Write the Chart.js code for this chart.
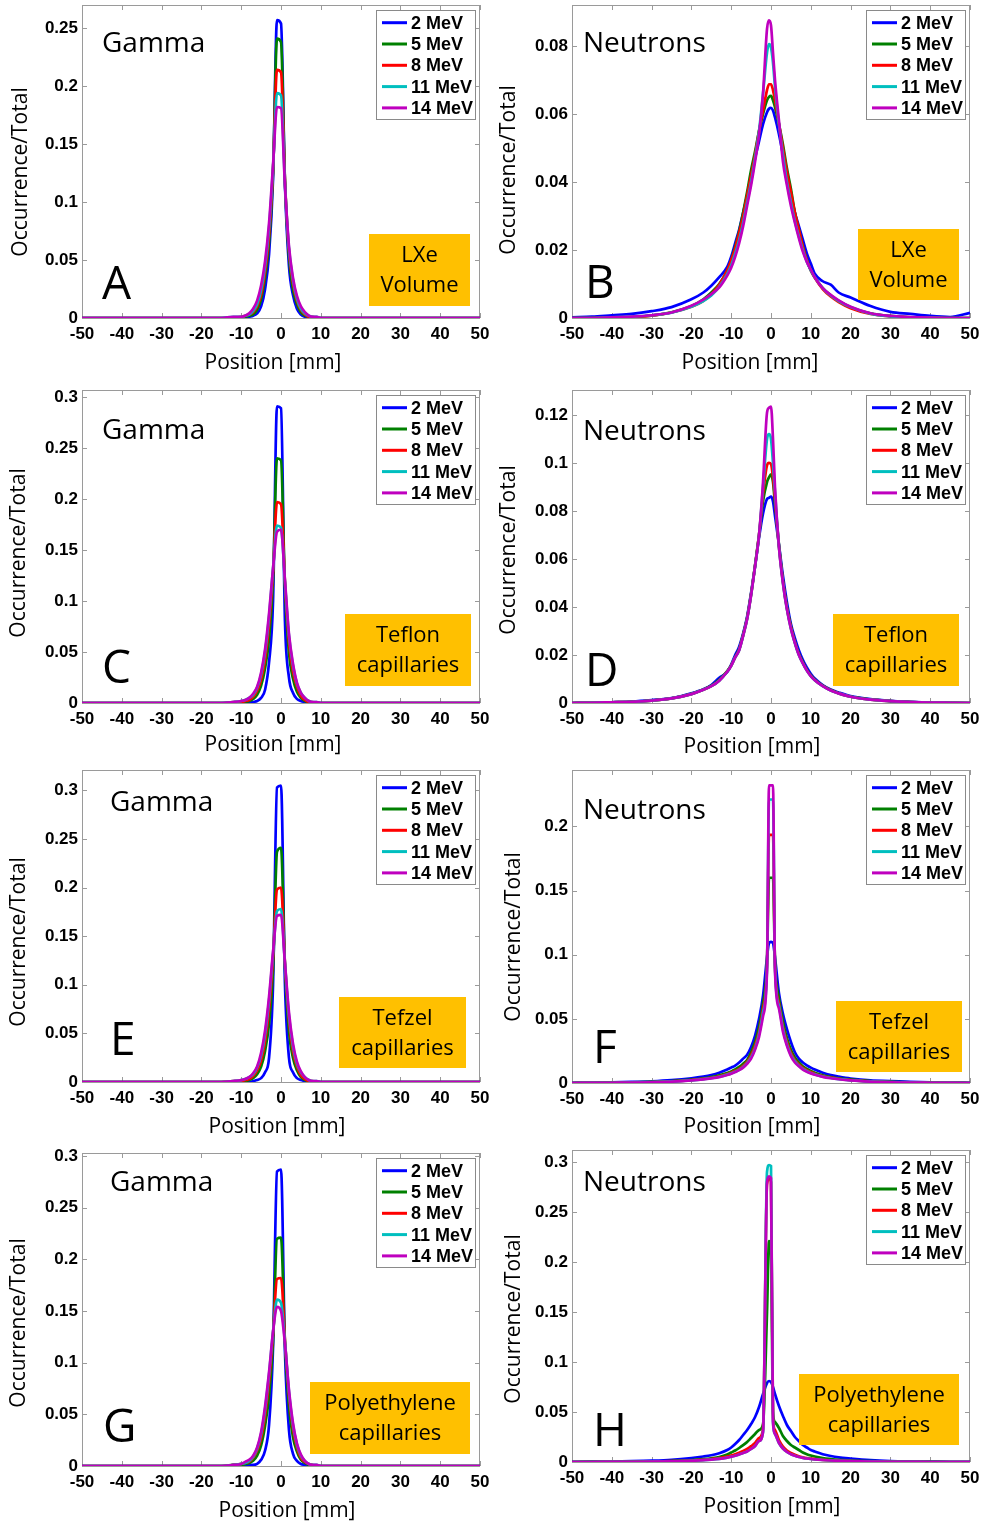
<!DOCTYPE html>
<html><head><meta charset="utf-8">
<script src="https://cdn.jsdelivr.net/npm/chart.js@4.4.1/dist/chart.umd.min.js"></script>
<style>
html,body{margin:0;padding:0;background:#fff;width:983px;height:1525px;overflow:hidden;position:relative}
canvas{position:absolute}
</style></head><body>
<script>
// ---------- categories / labels ----------
const energyLabels = ['2 MeV','5 MeV','8 MeV','11 MeV','14 MeV'];
const xTicks = [-50,-40,-30,-20,-10,0,10,20,30,40,50];
const yTicksA = [0,0.05,0.1,0.15,0.2,0.25];
const yTicksB = [0,0.02,0.04,0.06,0.08];
const yTicksC = [0,0.05,0.1,0.15,0.2,0.25,0.3];
const yTicksD = [0,0.02,0.04,0.06,0.08,0.1,0.12];
const yTicksE = [0,0.05,0.1,0.15,0.2,0.25,0.3];
const yTicksF = [0,0.05,0.1,0.15,0.2];
const yTicksG = [0,0.05,0.1,0.15,0.2,0.25,0.3];
const yTicksH = [0,0.05,0.1,0.15,0.2,0.25,0.3];

// ---------- positions (mm) ----------
const gammaPositions = [-50,-20,-15,-12,-10,-9,-8,-7,-6,-5,-4,-3,-2,-1,0,1,2,3,4,5,6,7,8,9,10,12,15,20,50];
const neutronPositions = [-50,-45,-40,-35,-30,-25,-20,-17,-15,-13,-11,-10,-9,-8,-7,-6,-5,-4,-3,-2,-1,-0.5,0,0.5,1,2,3,4,5,6,7,8,9,10,11,13,15,17,20,25,30,35,40,45,50];

// ---------- A: Gamma, LXe volume ----------
const A_2MeV  = [0,0,0,0,0,0,0.001,0.002,0.004,0.01,0.025,0.055,0.12,0.257,0.254,0.115,0.045,0.02,0.008,0.003,0.001,0,0,0,0,0,0,0,0];
const A_5MeV  = [0,0,0,0,0,0.001,0.002,0.003,0.007,0.016,0.035,0.065,0.125,0.241,0.238,0.118,0.053,0.025,0.012,0.005,0.002,0.001,0,0,0,0,0,0,0];
const A_8MeV  = [0,0,0,0,0.001,0.002,0.003,0.005,0.01,0.02,0.04,0.072,0.128,0.214,0.212,0.118,0.058,0.03,0.015,0.007,0.003,0.001,0.001,0,0,0,0,0,0];
const A_11MeV = [0,0,0,0.001,0.001,0.002,0.003,0.006,0.012,0.024,0.045,0.078,0.13,0.194,0.192,0.115,0.06,0.033,0.017,0.008,0.004,0.002,0.001,0.001,0,0,0,0,0];
const A_14MeV = [0,0,0,0.001,0.001,0.002,0.004,0.008,0.015,0.028,0.049,0.082,0.132,0.182,0.181,0.114,0.062,0.035,0.019,0.01,0.005,0.002,0.001,0.001,0,0,0,0,0];

// ---------- C: Gamma, Teflon ----------
const C_2MeV  = [0,0,0,0,0,0,0,0.001,0.002,0.005,0.013,0.04,0.1,0.291,0.289,0.08,0.025,0.01,0.004,0.002,0.001,0,0,0,0,0,0,0,0];
const C_5MeV  = [0,0,0,0,0,0.001,0.002,0.004,0.008,0.017,0.034,0.063,0.12,0.24,0.238,0.113,0.049,0.024,0.011,0.005,0.002,0.001,0,0,0,0,0,0,0];
const C_8MeV  = [0,0,0,0.001,0.001,0.002,0.003,0.006,0.012,0.023,0.043,0.077,0.128,0.197,0.195,0.118,0.06,0.031,0.016,0.007,0.003,0.001,0.001,0,0,0,0,0,0];
const C_11MeV = [0,0,0,0.001,0.002,0.003,0.005,0.008,0.015,0.028,0.05,0.085,0.132,0.174,0.172,0.118,0.066,0.037,0.019,0.01,0.005,0.002,0.001,0.001,0,0,0,0,0];
const C_14MeV = [0,0,0,0.001,0.002,0.003,0.005,0.009,0.016,0.03,0.053,0.088,0.132,0.168,0.17,0.12,0.068,0.039,0.02,0.01,0.005,0.002,0.001,0.001,0,0,0,0,0];

// ---------- E: Gamma, Tefzel ----------
const E_2MeV  = [0,0,0,0,0,0,0,0.001,0.002,0.004,0.01,0.025,0.1,0.303,0.305,0.1,0.025,0.01,0.004,0.002,0.001,0,0,0,0,0,0,0,0];
const E_5MeV  = [0,0,0,0,0.001,0.001,0.002,0.004,0.008,0.016,0.032,0.06,0.115,0.237,0.241,0.118,0.052,0.025,0.012,0.005,0.002,0.001,0,0,0,0,0,0,0];
const E_8MeV  = [0,0,0,0.001,0.001,0.002,0.003,0.006,0.012,0.022,0.042,0.075,0.128,0.198,0.2,0.122,0.063,0.032,0.016,0.007,0.003,0.001,0.001,0,0,0,0,0,0];
const E_11MeV = [0,0,0,0.001,0.002,0.003,0.005,0.008,0.015,0.027,0.049,0.084,0.132,0.176,0.178,0.122,0.068,0.037,0.019,0.01,0.005,0.002,0.001,0.001,0,0,0,0,0];
const E_14MeV = [0,0,0,0.001,0.002,0.003,0.005,0.009,0.016,0.03,0.053,0.088,0.134,0.171,0.172,0.122,0.072,0.04,0.021,0.011,0.005,0.002,0.001,0.001,0,0,0,0,0];

// ---------- G: Gamma, Polyethylene ----------
const G_2MeV  = [0,0,0,0,0,0,0.001,0.001,0.002,0.006,0.015,0.04,0.115,0.285,0.287,0.11,0.035,0.012,0.005,0.002,0.001,0,0,0,0,0,0,0,0];
const G_5MeV  = [0,0,0,0.001,0.001,0.002,0.003,0.005,0.01,0.02,0.039,0.068,0.12,0.22,0.221,0.118,0.058,0.028,0.014,0.006,0.003,0.001,0,0,0,0,0,0,0];
const G_8MeV  = [0,0,0,0.001,0.002,0.003,0.004,0.008,0.015,0.027,0.049,0.082,0.128,0.181,0.182,0.122,0.068,0.036,0.018,0.008,0.004,0.002,0.001,0,0,0,0,0,0];
const G_11MeV = [0,0,0,0.001,0.002,0.003,0.005,0.009,0.017,0.031,0.055,0.089,0.13,0.161,0.158,0.12,0.072,0.04,0.021,0.01,0.005,0.002,0.001,0.001,0,0,0,0,0];
const G_14MeV = [0,0,0,0.001,0.002,0.004,0.006,0.01,0.018,0.033,0.058,0.091,0.13,0.154,0.15,0.118,0.074,0.042,0.022,0.011,0.005,0.002,0.001,0.001,0,0,0,0,0];

// ---------- B: Neutrons, LXe volume ----------
const B_2MeV = [0.0002,0.0004,0.0008,0.0012,0.002,0.0032,0.0055, 0.0075,0.0095,0.012,0.015,
  0.018,0.022,0.026,0.031,0.036,0.042,0.047,0.052,0.057,0.0605, 0.0615,0.0618,0.061,
  0.059,0.054,0.048,0.042,0.036,0.031,0.027,0.023,0.019,0.016,0.013, 0.0108,0.0098,0.0075,0.006,
  0.0035,0.0018,0.0012,0.0006,0.0003,0.0015];
const B_5MeV = [0,0,0.0001,0.0003,0.0007,0.0017,0.0035, 0.0055,0.0075,0.01,0.014,
  0.017,0.021,0.0255,0.031,0.037,0.0435,0.049,0.055,0.06,0.064, 0.065,0.0653,0.064,
  0.062,0.057,0.051,0.044,0.038,0.031,0.026,0.021,0.017,0.014,0.012, 0.0088,0.0067,0.005,0.0031,
  0.0014,0.0006,0.0002,0.0001,0,0];
const B_8MeV = [0,0,0.0001,0.0003,0.0007,0.0016,0.0033, 0.005,0.007,0.0098,0.014,
  0.017,0.0205,0.025,0.03,0.036,0.042,0.048,0.055,0.061,0.067, 0.0687,0.0687,0.067,
  0.064,0.057,0.05,0.043,0.037,0.031,0.026,0.021,0.017,0.014,0.0118, 0.0085,0.0063,0.0047,0.0029,
  0.0012,0.0005,0.0002,0.0001,0,0];
const B_11MeV = [0,0,0.0002,0.0004,0.0008,0.0016,0.0033, 0.005,0.0066,0.0092,0.013,
  0.0155,0.019,0.023,0.028,0.034,0.04,0.047,0.055,0.066,0.078, 0.0805,0.0795,0.075,
  0.068,0.057,0.048,0.04,0.034,0.0285,0.024,0.02,0.0165,0.014,0.012, 0.0088,0.0066,0.005,0.0032,
  0.0013,0.0005,0.0002,0.0001,0,0];
const B_14MeV = [0,0,0.0002,0.0004,0.0008,0.0016,0.0036, 0.0054,0.007,0.009,0.0125,
  0.0148,0.018,0.022,0.027,0.033,0.039,0.046,0.054,0.066,0.085, 0.0875,0.086,0.078,
  0.07,0.058,0.046,0.039,0.033,0.028,0.0235,0.0195,0.0165,0.0142,0.012, 0.0088,0.0068,0.0052,0.0033,
  0.0014,0.0006,0.0003,0.0001,0,0];

// ---------- D: Neutrons, Teflon ----------
const D_2MeV = [0,0.0001,0.0003,0.0006,0.0012,0.002,0.004, 0.0057,0.0075,0.0105,0.013,
  0.016,0.02,0.0235,0.029,0.036,0.046,0.057,0.069,0.079,0.085, 0.0855,0.086,0.084,
  0.078,0.066,0.053,0.042,0.033,0.027,0.022,0.018,0.0148,0.0122,0.0102, 0.0075,0.0056,0.0044,0.0029,
  0.0016,0.0009,0.0005,0.0002,0.0001,0];
const D_5MeV = [0,0.0001,0.0003,0.0005,0.001,0.0019,0.0038, 0.0056,0.0072,0.0097,0.0133,
  0.0158,0.0192,0.0225,0.0285,0.0355,0.0455,0.0575,0.07,0.084,0.092, 0.094,0.0953,0.092,
  0.083,0.066,0.051,0.04,0.032,0.0255,0.0205,0.017,0.0138,0.0115,0.0097, 0.0072,0.0054,0.0041,0.0027,
  0.0015,0.0008,0.0004,0.0002,0.0001,0];
const D_8MeV = [0,0.0001,0.0003,0.0005,0.001,0.0019,0.0037, 0.0055,0.007,0.0094,0.0131,
  0.0156,0.019,0.0222,0.0282,0.0352,0.0452,0.0572,0.0702,0.087,0.099, 0.1,0.0995,0.094,
  0.085,0.065,0.0505,0.0395,0.0315,0.0253,0.0203,0.0167,0.0137,0.0113,0.0096, 0.0071,0.0053,0.004,0.0026,
  0.0014,0.0008,0.0004,0.0002,0.0001,0];
const D_11MeV = [0,0.0001,0.0003,0.0005,0.001,0.0019,0.0037, 0.0055,0.007,0.0093,0.013,
  0.0155,0.019,0.022,0.028,0.035,0.045,0.057,0.07,0.09,0.11, 0.112,0.11,0.1,
  0.088,0.065,0.05,0.039,0.031,0.025,0.02,0.0165,0.0135,0.0112,0.0095, 0.007,0.0052,0.004,0.0026,
  0.0014,0.0008,0.0004,0.0002,0.0001,0];
const D_14MeV = [0,0.0001,0.0003,0.0005,0.001,0.0019,0.0037, 0.0055,0.007,0.0093,0.013,
  0.0155,0.019,0.022,0.028,0.035,0.045,0.057,0.07,0.092,0.121, 0.123,0.1235,0.11,
  0.09,0.065,0.05,0.039,0.031,0.025,0.02,0.0165,0.0135,0.0112,0.0095, 0.007,0.0052,0.004,0.0026,
  0.0014,0.0008,0.0004,0.0002,0.0001,0];

// ---------- F: Neutrons, Tefzel ----------
const F_2MeV = [0.0002,0.0003,0.0005,0.0008,0.0013,0.0022,0.0037, 0.005,0.0062,0.008,0.0105,
  0.012,0.0136,0.016,0.019,0.022,0.028,0.037,0.05,0.068,0.098, 0.109,0.11,0.109,
  0.098,0.07,0.054,0.042,0.032,0.024,0.019,0.016,0.0138,0.012,0.0105, 0.008,0.0062,0.005,0.0035,
  0.002,0.0015,0.0009,0.0005,0.0003,0.0002];
const F_5MeV = [0,0.0001,0.0003,0.0005,0.0009,0.0015,0.0026, 0.0036,0.0046,0.006,0.0078,
  0.009,0.0105,0.0125,0.015,0.018,0.024,0.032,0.044,0.062,0.095, 0.16,0.16,0.16,
  0.095,0.066,0.048,0.035,0.026,0.02,0.016,0.013,0.011,0.0094,0.008, 0.006,0.0047,0.0037,0.0026,
  0.0015,0.0009,0.0005,0.0003,0.0001,0];
const F_8MeV = [0,0.0001,0.0002,0.0004,0.0007,0.0013,0.0023, 0.0032,0.0041,0.0053,0.007,
  0.0082,0.0095,0.011,0.0135,0.0165,0.0215,0.029,0.04,0.058,0.092, 0.1935,0.1935,0.1935,
  0.092,0.062,0.044,0.032,0.0235,0.018,0.0145,0.0118,0.01,0.0085,0.0072, 0.0054,0.0042,0.0033,0.0023,
  0.0013,0.0007,0.0004,0.0002,0.0001,0];
const F_11MeV = [0,0.0001,0.0002,0.0004,0.0007,0.0012,0.0021, 0.003,0.0038,0.0049,0.0065,
  0.0075,0.0088,0.0102,0.0125,0.0155,0.02,0.027,0.038,0.055,0.09, 0.221,0.221,0.221,
  0.09,0.06,0.042,0.03,0.022,0.017,0.0135,0.011,0.0092,0.0078,0.0067, 0.005,0.0039,0.003,0.0021,
  0.0012,0.0007,0.0004,0.0002,0.0001,0];
const F_14MeV = [0,0.0001,0.0002,0.0003,0.0006,0.0011,0.002, 0.0028,0.0036,0.0046,0.0062,
  0.0072,0.0085,0.01,0.012,0.015,0.019,0.026,0.036,0.052,0.088, 0.232,0.232,0.232,
  0.088,0.058,0.04,0.029,0.021,0.016,0.013,0.0105,0.0088,0.0075,0.0064, 0.0048,0.0037,0.0029,0.002,
  0.0011,0.0006,0.0003,0.0002,0.0001,0];

// ---------- H: Neutrons, Polyethylene ----------
const H_2MeV = [0.0002,0.0003,0.0005,0.0008,0.0013,0.0022,0.004, 0.0055,0.0068,0.0088,0.012,
  0.0145,0.018,0.022,0.027,0.032,0.038,0.045,0.055,0.068,0.079, 0.081,0.08,0.075,
  0.068,0.056,0.046,0.037,0.031,0.025,0.021,0.017,0.0145,0.012,0.0105, 0.0078,0.006,0.0047,0.0035,
  0.0019,0.001,0.0006,0.0004,0.0002,0.0001];
const H_5MeV = [0,0.0001,0.0002,0.0003,0.0006,0.001,0.0018, 0.0028,0.0037,0.005,0.0075,
  0.0095,0.0115,0.014,0.0168,0.02,0.024,0.028,0.032,0.038,0.15, 0.221,0.21,0.05,
  0.04,0.034,0.026,0.021,0.017,0.0145,0.012,0.0095,0.0078,0.0065,0.0055, 0.004,0.003,0.0022,0.0015,
  0.0008,0.0004,0.0002,0.0001,0,0];
const H_8MeV = [0,0,0.0001,0.0002,0.0004,0.0008,0.0015, 0.0022,0.003,0.004,0.0055,
  0.0065,0.0078,0.0093,0.011,0.013,0.0158,0.019,0.024,0.033,0.278, 0.283,0.28,0.045,
  0.032,0.022,0.0155,0.0115,0.009,0.0072,0.0058,0.0048,0.004,0.0034,0.0029, 0.0022,0.0017,0.0013,0.0009,
  0.0005,0.0002,0.0001,0,0,0];
const H_11MeV = [0,0,0.0001,0.0002,0.0003,0.0006,0.0012, 0.0018,0.0024,0.0032,0.0044,
  0.0052,0.0062,0.0075,0.009,0.0105,0.013,0.016,0.021,0.03,0.29, 0.297,0.296,0.04,
  0.028,0.019,0.0135,0.01,0.0078,0.0062,0.005,0.0042,0.0035,0.003,0.0026, 0.002,0.0015,0.0012,0.0008,
  0.0004,0.0002,0.0001,0,0,0];
const H_14MeV = [0,0,0.0001,0.0002,0.0003,0.0006,0.0012, 0.0018,0.0024,0.0032,0.0044,
  0.0052,0.0062,0.0075,0.009,0.0105,0.013,0.016,0.021,0.03,0.28, 0.2857,0.284,0.04,
  0.028,0.019,0.0135,0.01,0.0078,0.0062,0.005,0.0042,0.0035,0.003,0.0026, 0.002,0.0015,0.0012,0.0008,
  0.0004,0.0002,0.0001,0,0,0];

// ---------- styles ----------
const seriesColors = ['#0000FF','#008000','#FF0000','#00BFBF','#BF00BF'];
const ORANGE = '#FFC000';
const FRAME = '#9a9a9a';

// ---------- layout (page pixels) ----------
const panels = [
 {xs:gammaPositions, series:[A_2MeV,A_5MeV,A_8MeV,A_11MeV,A_14MeV], yMax:0.27, yTicks:yTicksA,
  box:[82,5,480,318], particle:'Gamma', pPos:[102,52], letter:'A', lPos:[102,299],
  material:['LXe','Volume'], orange:[369,234,101,72], yTitle:[21,172], xTitle:[273,363]},
 {xs:neutronPositions, series:[B_2MeV,B_5MeV,B_8MeV,B_11MeV,B_14MeV], yMax:0.092, yTicks:yTicksB,
  box:[572,5,970,318], particle:'Neutrons', pPos:[583,52], letter:'B', lPos:[585,298],
  material:['LXe','Volume'], orange:[858,229,101,71], yTitle:[509,170], xTitle:[750,363]},
 {xs:gammaPositions, series:[C_2MeV,C_5MeV,C_8MeV,C_11MeV,C_14MeV], yMax:0.307, yTicks:yTicksC,
  box:[82,390,480,703], particle:'Gamma', pPos:[102,439], letter:'C', lPos:[102,683],
  material:['Teflon','capillaries'], orange:[345,614,126,72], yTitle:[19,553], xTitle:[273,745]},
 {xs:neutronPositions, series:[D_2MeV,D_5MeV,D_8MeV,D_11MeV,D_14MeV], yMax:0.1304, yTicks:yTicksD,
  box:[572,390,970,703], particle:'Neutrons', pPos:[583,440], letter:'D', lPos:[585,686],
  material:['Teflon','capillaries'], orange:[833,614,126,72], yTitle:[509,550], xTitle:[752,747]},
 {xs:gammaPositions, series:[E_2MeV,E_5MeV,E_8MeV,E_11MeV,E_14MeV], yMax:0.321, yTicks:yTicksE,
  box:[82,770,480,1082], particle:'Gamma', pPos:[110,811], letter:'E', lPos:[110,1055],
  material:['Tefzel','capillaries'], orange:[339,997,127,71], yTitle:[19,942], xTitle:[277,1127]},
 {xs:neutronPositions, series:[F_2MeV,F_5MeV,F_8MeV,F_11MeV,F_14MeV], yMax:0.244, yTicks:yTicksF,
  box:[572,770,970,1083], particle:'Neutrons', pPos:[583,819], letter:'F', lPos:[593,1063],
  material:['Tefzel','capillaries'], orange:[836,1001,126,71], yTitle:[514,937], xTitle:[752,1127]},
 {xs:gammaPositions, series:[G_2MeV,G_5MeV,G_8MeV,G_11MeV,G_14MeV], yMax:0.303, yTicks:yTicksG,
  box:[82,1153,480,1466], particle:'Gamma', pPos:[110,1191], letter:'G', lPos:[103,1442],
  material:['Polyethylene','capillaries'], orange:[310,1382,160,72], yTitle:[19,1323], xTitle:[287,1511]},
 {xs:neutronPositions, series:[H_2MeV,H_5MeV,H_8MeV,H_11MeV,H_14MeV], yMax:0.312, yTicks:yTicksH,
  box:[572,1150,970,1462], particle:'Neutrons', pPos:[583,1191], letter:'H', lPos:[593,1446],
  material:['Polyethylene','capillaries'], orange:[799,1374,160,71], yTitle:[514,1319], xTitle:[772,1507]}
];

const PADL = 100, PADT = 40, PADR = 40, PADB = 80;
const TICKFONT = {family:'Liberation Sans, Arial, sans-serif', size:17, weight:'bold'};
const LABELFONT = '"Open Sans", sans-serif';

function makeDecor(p) {
  const [L, T] = p.box;
  return {
    id: 'decor',
    beforeDatasetsDraw(chart) {
      const {ctx, chartArea: a, scales} = chart;
      ctx.save();
      ctx.strokeStyle = FRAME; ctx.lineWidth = 1;
      ctx.strokeRect(a.left + 0.5, a.top + 0.5, a.right - a.left - 1, a.bottom - a.top);
      ctx.beginPath();
      scales.x.ticks.forEach(t => {
        const px = Math.round(scales.x.getPixelForValue(t.value)) + 0.5;
        ctx.moveTo(px, a.bottom); ctx.lineTo(px, a.bottom - 5);
        ctx.moveTo(px, a.top); ctx.lineTo(px, a.top + 5);
      });
      scales.y.ticks.forEach(t => {
        const py = Math.round(scales.y.getPixelForValue(t.value)) + 0.5;
        ctx.moveTo(a.left, py); ctx.lineTo(a.left + 5, py);
        ctx.moveTo(a.right, py); ctx.lineTo(a.right - 5, py);
      });
      ctx.stroke();
      ctx.restore();
    },
    afterDraw(chart) {
      const {ctx, chartArea: a} = chart;
      const X = v => v - L + a.left, Y = v => v - T + a.top;
      ctx.save();
      // legend
      const lw = 99, lh = 109, lx = a.right - 5 - lw, ly = a.top + 5;
      ctx.fillStyle = '#fff'; ctx.fillRect(lx, ly, lw, lh);
      ctx.strokeStyle = '#8a8a8a'; ctx.lineWidth = 1;
      ctx.strokeRect(lx + 0.5, ly + 0.5, lw, lh);
      chart.data.datasets.forEach((ds, i) => {
        const ry = ly + 12.7 + i * 21.3;
        ctx.strokeStyle = ds.borderColor; ctx.lineWidth = 3;
        ctx.beginPath(); ctx.moveTo(lx + 6, ry); ctx.lineTo(lx + 31, ry); ctx.stroke();
        ctx.fillStyle = '#000'; ctx.font = 'bold 18px "Liberation Sans", Arial, sans-serif';
        ctx.textAlign = 'left'; ctx.textBaseline = 'middle';
        ctx.fillText(ds.label, lx + 35, ry + 1);
      });
      // particle & panel letter
      ctx.fillStyle = '#000'; ctx.textAlign = 'left'; ctx.textBaseline = 'alphabetic';
      ctx.font = '28px ' + LABELFONT;
      ctx.fillText(p.particle, X(p.pPos[0]), Y(p.pPos[1]));
      ctx.font = '46px ' + LABELFONT;
      ctx.fillText(p.letter, X(p.lPos[0]), Y(p.lPos[1]));
      // orange material box
      const [ox, oy, ow, oh] = p.orange;
      ctx.fillStyle = ORANGE; ctx.fillRect(X(ox), Y(oy), ow, oh);
      ctx.fillStyle = '#000'; ctx.font = '22px ' + LABELFONT;
      ctx.textAlign = 'center'; ctx.textBaseline = 'middle';
      ctx.fillText(p.material[0], X(ox + ow / 2), Y(oy + oh / 2 - 14));
      ctx.fillText(p.material[1], X(ox + ow / 2), Y(oy + oh / 2 + 16));
      // axis titles
      ctx.font = '21px ' + LABELFONT;
      ctx.fillText('Position [mm]', X(p.xTitle[0]), Y(p.xTitle[1]));
      ctx.translate(X(p.yTitle[0]), Y(p.yTitle[1]));
      ctx.rotate(-Math.PI / 2);
      ctx.fillText('Occurrence/Total', 0, 0);
      ctx.restore();
    }
  };
}

Chart.defaults.font.family = 'Liberation Sans, Arial, sans-serif';

panels.forEach(p => {
  const [L, T, R, B] = p.box;
  const cv = document.createElement('canvas');
  cv.width = R - L + PADL + PADR; cv.height = B - T + PADT + PADB;
  cv.style.left = (L - PADL) + 'px'; cv.style.top = (T - PADT) + 'px';
  cv.style.width = cv.width + 'px'; cv.style.height = cv.height + 'px';
  document.body.appendChild(cv);
  const datasets = p.series.map((vals, i) => ({
    label: energyLabels[i],
    data: p.xs.map((x, j) => ({x: x, y: vals[j]})),
    borderColor: seriesColors[i],
    borderWidth: 2.7,
    pointRadius: 0,
    fill: false,
    cubicInterpolationMode: 'monotone',
    order: 4 - i
  }));
  new Chart(cv, {
    type: 'line',
    data: {datasets},
    options: {
      responsive: false, animation: false, devicePixelRatio: 1,
      layout: {padding: {left: 0, top: PADT, right: PADR, bottom: 0}},
      plugins: {legend: {display: false}, tooltip: {enabled: false}},
      scales: {
        x: {
          type: 'linear', min: -50, max: 50,
          grid: {display: false, drawTicks: false}, border: {display: false},
          afterBuildTicks: s => { s.ticks = xTicks.map(v => ({value: v})); },
          afterFit: s => { s.height = PADB; },
          ticks: {font: TICKFONT, color: '#000', padding: 6, maxRotation: 0, autoSkip: false, includeBounds: false}
        },
        y: {
          type: 'linear', min: 0, max: p.yMax,
          grid: {display: false, drawTicks: false}, border: {display: false},
          afterBuildTicks: s => { s.ticks = p.yTicks.map(v => ({value: v})); },
          afterFit: s => { s.width = PADL; },
          ticks: {font: TICKFONT, color: '#000', padding: 4, autoSkip: false, includeBounds: false,
                  callback: v => String(+v.toFixed(3))}
        }
      }
    },
    plugins: [makeDecor(p)]
  });
});
</script>
</body></html>
